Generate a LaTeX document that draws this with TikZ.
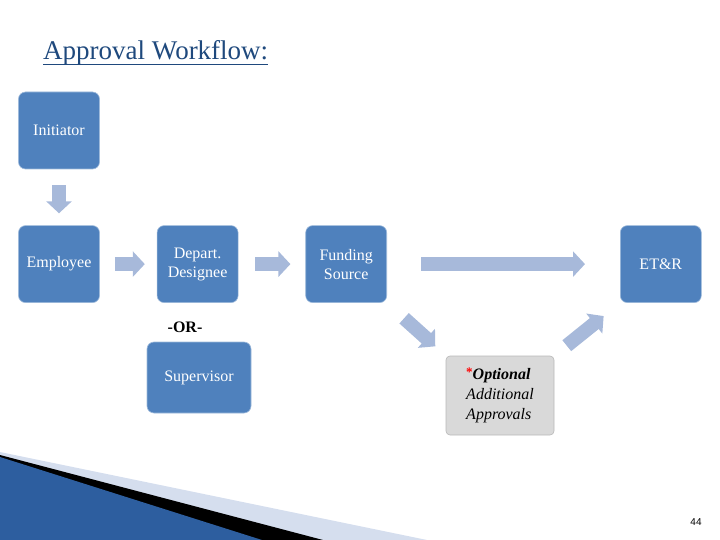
\documentclass[tikz,border=0pt]{standalone}
\usepackage{fontspec}
\setmainfont{Liberation Serif}
\setsansfont{Liberation Sans}
\usepackage{tikz}
\usetikzlibrary{arrows.meta,positioning}
\definecolor{flowblue}{HTML}{4F81BD}
\definecolor{arrowblue}{HTML}{A7B9DA}
\definecolor{titleblue}{HTML}{1F497D}
\definecolor{optgray}{HTML}{D9D9D9}
\definecolor{swooshlight}{HTML}{D5DEEE}
\definecolor{swooshdark}{HTML}{2D5E9F}
\definecolor{swooshmid}{HTML}{7BA4E0}

\begin{document}
\begin{tikzpicture}[x=1pt,y=-1pt,
  node distance=56pt and 57pt,
  box/.style={draw=flowblue!55!white,line width=0.6pt,rounded corners=7pt,fill=flowblue,text=white,
              minimum width=81pt,minimum height=77pt,align=center,font=\fontsize{16}{19}\selectfont},
  optbox/.style={draw=optgray!85!black,line width=0.6pt,rounded corners=4pt,fill=optgray,
              minimum width=108pt,minimum height=79pt,align=left,font=\fontsize{16}{20}\selectfont},
  blockarrow/.style={-{Triangle[length=12pt,width=25pt]},line width=14pt,draw=arrowblue}
]
\useasboundingbox (0,0) rectangle (720,540);
% corner swoosh
\fill[swooshlight] (0,452) -- (427,540) -- (0,540) -- cycle;
\fill[black] (0,455) -- (323,540) -- (0,540) -- cycle;
\shade[left color=swooshdark,middle color=swooshmid,right color=swooshdark] (0,457) -- (262,540) -- (0,540) -- cycle;

\node[anchor=base west,inner sep=0,text=titleblue,font=\fontsize{27}{32}\selectfont] (title) at (43,60) {Approval Workflow:};
\draw[titleblue,line width=1.6pt] ([yshift=-4.5pt]title.base west) -- ([yshift=-4.5pt]title.base east);

\node[box] (initiator) at (59,130.5) {Initiator};
\node[box,below=of initiator] (employee) {Employee};
\node[box,right=of employee] (depart) {Depart.\\Designee};
\node[box,right=67pt of depart] (funding) {Funding\\Source};
\node[box,right=233pt of funding] (etr) {ET\&R};
\node[box,minimum width=104pt,minimum height=71pt] (supervisor) at (199,377.5) {Supervisor};
\node[font=\bfseries\fontsize{16}{19}\selectfont] (ortext) at (185,327) {-OR-};
\node[optbox] (optional) at (500,395.5) {\raisebox{3pt}{\textcolor{red}{\bfseries\fontsize{13}{13}\selectfont*}}\textbf{\textit{Optional}}\\\textit{Additional}\\\textit{Approvals}};

\draw[blockarrow,shorten <=16pt,shorten >=12pt] (initiator) -- (employee);
\draw[blockarrow,shorten <=15pt,shorten >=12pt] (employee) -- (depart);
\draw[blockarrow,shorten <=17pt,shorten >=15pt] (depart) -- (funding);
\draw[blockarrow,shorten <=34pt,shorten >=35pt] (funding) -- (etr);
\draw[blockarrow,shorten <=23pt,shorten >=14pt] (funding.south east) -- (optional.north west);
\draw[blockarrow,shorten <=16pt,shorten >=21pt] (optional.north east) -- (etr.south west);

\node[font=\sffamily\fontsize{10}{12}\selectfont] (pagenum) at (696,522) {44};
\end{tikzpicture}
\end{document}
